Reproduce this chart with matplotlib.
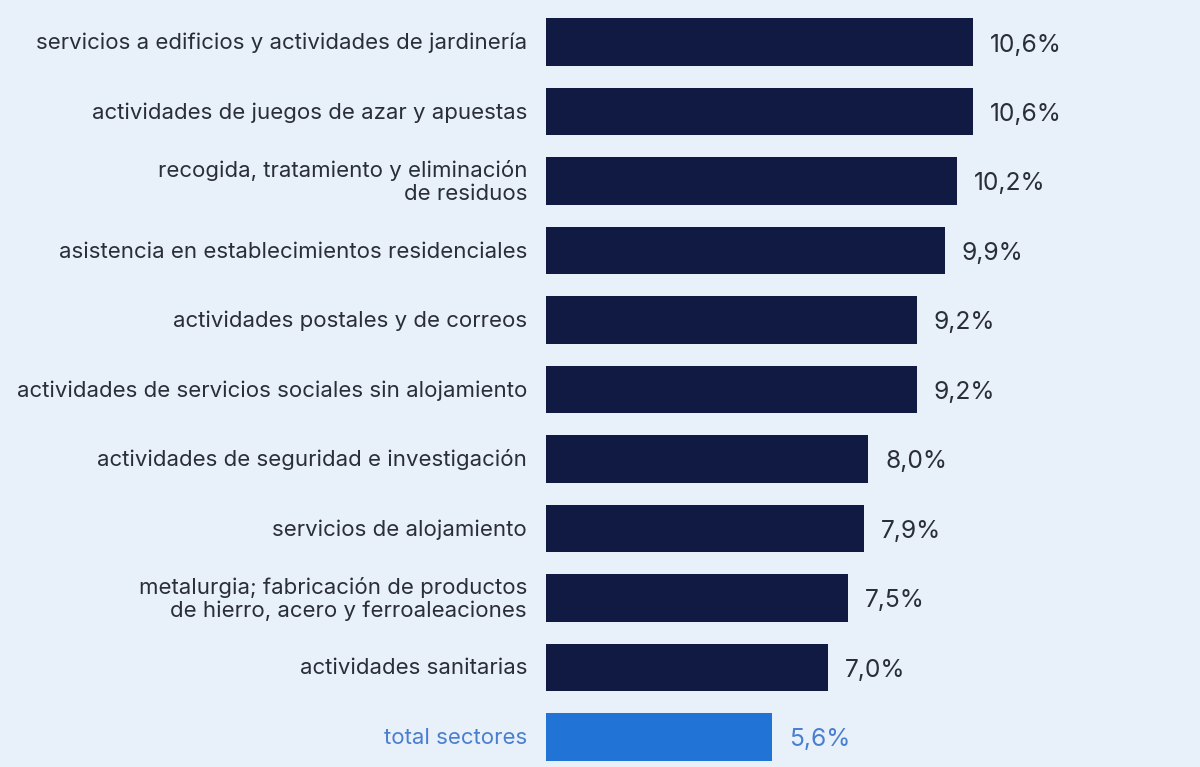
import matplotlib.pyplot as plt
from matplotlib.transforms import offset_copy

plt.rcParams['font.family'] = ['Inter', 'DejaVu Sans']

# data (top to bottom)
SECTORS = [
    "servicios a edificios y actividades de jardinería",
    "actividades de juegos de azar y apuestas",
    "recogida, tratamiento y eliminación\nde residuos",
    "asistencia en establecimientos residenciales",
    "actividades postales y de correos",
    "actividades de servicios sociales sin alojamiento",
    "actividades de seguridad e investigación",
    "servicios de alojamiento",
    "metalurgia; fabricación de productos\nde hierro, acero y ferroaleaciones",
    "actividades sanitarias",
    "total sectores",
]
VALUES = [10.6, 10.6, 10.2, 9.9, 9.2, 9.2, 8.0, 7.9, 7.5, 7.0, 5.6]
VALUE_LABELS = ["10,6%", "10,6%", "10,2%", "9,9%", "9,2%", "9,2%", "8,0%", "7,9%", "7,5%", "7,0%", "5,6%"]

BG = "#E8F0FA"
DARK = "#111A43"
BLUE = "#2173D6"
TEXT = "#2A2D3A"
TEXT_BLUE = "#4A7FD0"

fig = plt.figure(figsize=(12, 7.67), dpi=100, facecolor=BG)
ax = fig.add_axes([546 / 1200, 0, 654 / 1200, 1])
ax.set_facecolor(BG)

px_per_unit = 40.3
ax.set_xlim(0, 654 / px_per_unit)
ax.set_ylim((767 - 42) / 69.5, -42 / 69.5)

colors = [DARK] * (len(VALUES) - 1) + [BLUE]
ypos = list(range(len(VALUES)))
ax.barh(ypos, VALUES, height=0.69, color=colors)

lab_tr = offset_copy(ax.transData, fig=fig, x=-19, y=-1, units='dots')
val_tr = offset_copy(ax.transData, fig=fig, x=17, y=-3, units='dots')
for i, (name, v, vl) in enumerate(zip(SECTORS, VALUES, VALUE_LABELS)):
    total = i == len(VALUES) - 1
    ax.text(0, i, name, transform=lab_tr, ha='right', va='center',
            fontsize=16, color=TEXT_BLUE if total else TEXT, linespacing=1.2,
            clip_on=False)
    ax.text(v, i, vl, transform=val_tr, ha='left', va='center',
            fontsize=17.7, color=TEXT_BLUE if total else TEXT)

ax.axis('off')
fig.savefig("out.png", dpi=100, facecolor=BG)
